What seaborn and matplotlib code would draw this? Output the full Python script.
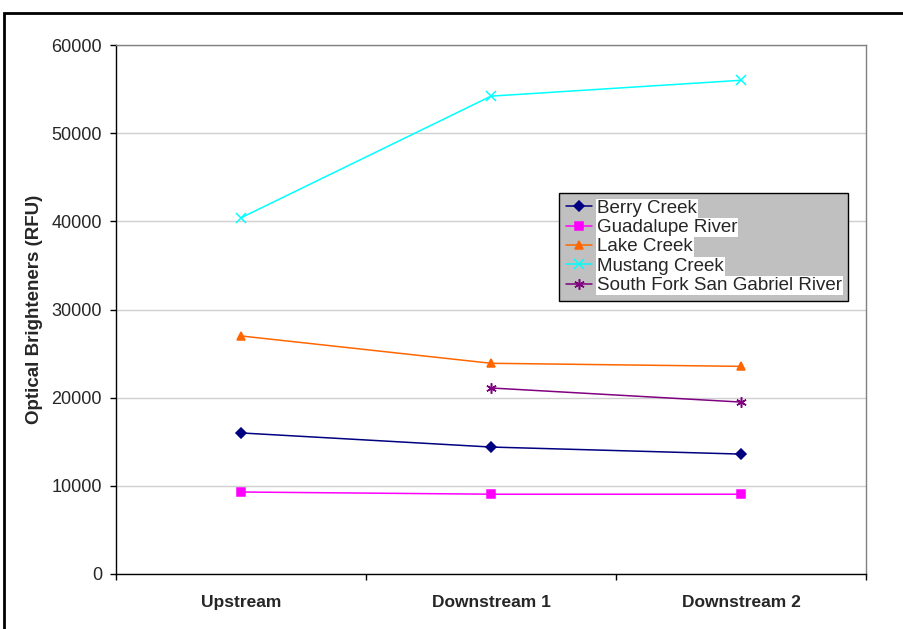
import matplotlib
matplotlib.use("Agg")
import matplotlib.pyplot as plt
import matplotlib.patches as mpatches
import numpy as np
import pandas as pd
import seaborn as sns

categories = ["Upstream", "Downstream 1", "Downstream 2"]
sites = ["Berry Creek", "Guadalupe River", "Lake Creek", "Mustang Creek",
         "South Fork San Gabriel River"]
berry_creek = [16000, 14400, 13600]
guadalupe_river = [9300, 9050, 9050]
lake_creek = [27000, 23900, 23550]
mustang_creek = [40400, 54200, 56000]
south_fork = [np.nan, 21100, 19500]
yticks = [0, 10000, 20000, 30000, 40000, 50000, 60000]

series = [berry_creek, guadalupe_river, lake_creek, mustang_creek, south_fork]
colors = ["#000080", "#FF00FF", "#FF6600", "#00FFFF", "#800080"]
markers = ["D", "s", "^", "x", (6, 2, 0)]
msizes = [5, 6, 6, 6.5, 7.5]

sns.set_theme(style="white")
plt.rcParams["font.family"] = ["Liberation Sans", "DejaVu Sans"]

fig = plt.figure(figsize=(9.04, 6.29), dpi=100)
ax = fig.add_axes([116/904, 1-574/629, 750/904, 529/629])

for s, vals, c, m, ms in zip(sites, series, colors, markers, msizes):
    d = pd.DataFrame({"pos": range(len(vals)), "value": vals}).dropna()
    sns.lineplot(data=d, x="pos", y="value", color=c, marker=m,
                 markersize=ms, markeredgewidth=1.1, markeredgecolor=c,
                 linewidth=1.1, label=s, ax=ax)

ax.set_xlim(-0.5, 2.5)
ax.set_ylim(0, 60000)
ax.set_yticks(yticks)
ax.set_yticklabels([str(t) for t in yticks], fontsize=13)
ax.set_xticks([0, 1, 2])
ax.set_xticklabels(categories, fontsize=12.5, fontweight="bold")
ax.set_xticks([-0.5, 0.5, 1.5, 2.5], minor=True)
ax.tick_params(axis="x", which="major", length=0, pad=15)
ax.tick_params(axis="x", which="minor", length=4.5, color="black", width=1, direction="out", bottom=True)
ax.tick_params(axis="y", length=4.5, color="black", width=1, direction="out", left=True, pad=5.5)
ax.set_xlabel("")
ax.set_ylabel("Optical Brighteners (RFU)", fontsize=13.5, fontweight="bold", labelpad=6)
ax.grid(axis="y", color="#D0D0D0", linewidth=1)
ax.grid(axis="x", visible=False)
ax.set_axisbelow(True)
for side in ["left", "bottom"]:
    ax.spines[side].set_color("black")
    ax.spines[side].set_linewidth(1)
for side in ["top", "right"]:
    ax.spines[side].set_color("#808080")
    ax.spines[side].set_linewidth(1)

leg = ax.legend(loc="upper left", bbox_to_anchor=((559-116)/750, (574-193)/529),
                borderaxespad=0, frameon=True, fancybox=False, framealpha=1,
                facecolor="#C0C0C0", edgecolor="black", fontsize=13.5,
                handlelength=1.4, handletextpad=0.27, labelspacing=0.12,
                borderpad=0.35)
leg.get_frame().set_linewidth(1)
for t in leg.get_texts():
    t.set_bbox(dict(facecolor="white", edgecolor="none", pad=0.8))

fig.patches.append(mpatches.Rectangle((4/904, -0.1), 1.2, 1-13/629+0.1,
                                      transform=fig.transFigure, fill=False,
                                      edgecolor="black", linewidth=2))

fig.savefig("out.png", dpi=100)
